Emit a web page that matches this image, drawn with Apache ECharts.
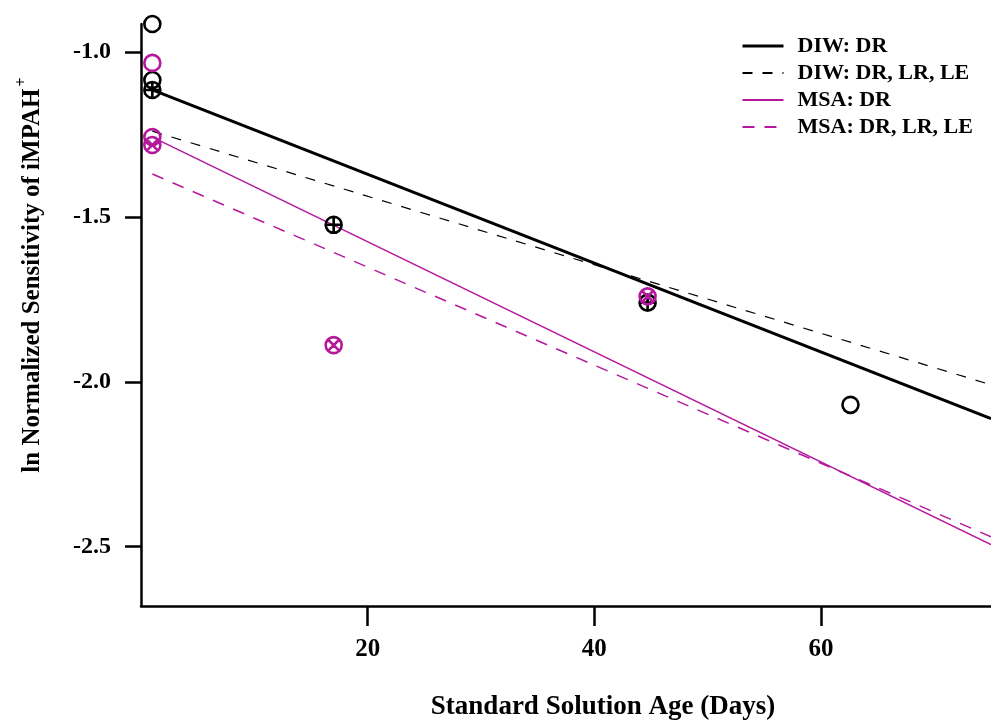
<!DOCTYPE html>
<html>
<head>
<meta charset="utf-8">
<script src="https://cdn.jsdelivr.net/npm/echarts@6.0.0/dist/echarts.min.js"></script>
<style>
  html, body { margin: 0; padding: 0; background: #fff; }
  #chart { width: 991px; height: 721px; }
</style>
</head>
<body>
<div id="chart"></div>
<script>
// fitted lines, read at both ends of the plotted range
const fitDays = [1, 75];
const diwDR = [-1.115, -2.112];
const diwAll = [-1.24, -2.009];
const msaDR = [-1.258, -2.494];
const msaAll = [-1.37, -2.47];

// measured points
const diwCircleDays = [1, 1, 62.6];
const diwCircleVals = [-0.915, -1.085, -2.07];
const diwPlusDays = [1, 17, 44.7];
const diwPlusVals = [-1.115, -1.524, -1.76];
const msaCircleDays = [1, 1];
const msaCircleVals = [-1.033, -1.258];
const msaCrossDays = [1, 17, 44.7];
const msaCrossVals = [-1.282, -1.889, -1.741];

const xTicks = [20, 40, 60];
const yTicks = [-2.5, -2.0, -1.5, -1.0];

const BLACK = "#000";
const MAGENTA = "#b5189c";
const FONT = "'Liberation Serif', 'DejaVu Serif', serif";

const CIRCLE = "path://M0,-10A10,10 0 1,1 0,10A10,10 0 1,1 0,-10Z";
const CIRCLE_PLUS = CIRCLE + "M-10,0L10,0M0,-10L0,10";
const CIRCLE_X = CIRCLE + "M-7.07,-7.07L7.07,7.07M-7.07,7.07L7.07,-7.07";

const zip = (xs, ys) => xs.map((x, i) => [x, ys[i]]);

const chart = echarts.init(document.getElementById("chart"));

const lineSeries = (name, vals, color, width, type) => ({
  name,
  type: "line",
  data: zip(fitDays, vals),
  symbol: "none",
  lineStyle: { color, width, type },
  itemStyle: { color },
  z: 2,
});

const pointSeries = (days, vals, symbol, color) => ({
  type: "scatter",
  data: zip(days, vals),
  symbol,
  symbolSize: 16,
  clip: false,
  itemStyle: { color: "rgba(0,0,0,0)", borderColor: color, borderWidth: 2.6, opacity: 1 },
  z: 3,
});

chart.setOption({
  animation: false,
  grid: { left: 141, right: 0, top: 24, bottom: 115, containLabel: false, outerBoundsMode: "none" },
  xAxis: {
    type: "value",
    min: 0,
    max: 75,
    name: "Standard Solution Age (Days)",
    nameLocation: "middle",
    nameGap: 88,
    nameTextStyle: {
      fontFamily: FONT, fontWeight: "bold", fontSize: 27, color: BLACK,
      padding: [0, 0, 0, 74],
    },
    axisLine: { lineStyle: { color: BLACK, width: 2.5 } },
    axisTick: { length: 20, customValues: xTicks, lineStyle: { color: BLACK, width: 2.5 } },
    axisLabel: {
      customValues: xTicks,
      margin: 31,
      fontFamily: FONT, fontWeight: "bold", fontSize: 25, color: BLACK,
    },
    splitLine: { show: false },
  },
  yAxis: {
    type: "value",
    min: -2.68,
    max: -0.915,
    axisLine: { show: true, lineStyle: { color: BLACK, width: 2.5 } },
    axisTick: { show: true, length: 16, customValues: yTicks, lineStyle: { color: BLACK, width: 2.5 } },
    axisLabel: {
      customValues: yTicks,
      margin: 30,
      formatter: (v) => v.toFixed(1),
      fontFamily: FONT, fontWeight: "bold", fontSize: 24, color: BLACK,
    },
    splitLine: { show: false },
  },
  legend: {
    data: [
      { name: "DIW: DR", lineStyle: { width: 3 } },
      { name: "DIW: DR, LR, LE" },
      { name: "MSA: DR" },
      { name: "MSA: DR, LR, LE" },
    ],
    orient: "vertical",
    left: 741,
    top: 35,
    padding: 0,
    itemWidth: 41,
    itemHeight: 14,
    itemGap: 5,
    itemStyle: { opacity: 0 },
    textStyle: { fontFamily: FONT, fontWeight: "bold", fontSize: 22, color: BLACK, padding: [0, 0, 0, 9] },
  },
  graphic: [
    {
      type: "text",
      x: 33,
      y: 275,
      rotation: Math.PI / 2,
      style: {
        text: "{a|ln Normalized Sensitivity of iMPAH}{s|+}",
        align: "center",
        verticalAlign: "middle",
        rich: {
          a: { fontFamily: FONT, fontWeight: "bold", fontSize: 25, fill: BLACK },
          s: { fontFamily: FONT, fontWeight: "bold", fontSize: 16, fill: BLACK, padding: [0, 0, 22, 2] },
        },
      },
    },
  ],
  series: [
    lineSeries("DIW: DR", diwDR, BLACK, 3, "solid"),
    lineSeries("DIW: DR, LR, LE", diwAll, BLACK, 1.2, [10, 10]),
    lineSeries("MSA: DR", msaDR, MAGENTA, 1.5, "solid"),
    lineSeries("MSA: DR, LR, LE", msaAll, MAGENTA, 1.5, [12, 10]),
    pointSeries(diwCircleDays, diwCircleVals, CIRCLE, BLACK),
    pointSeries(diwPlusDays, diwPlusVals, CIRCLE_PLUS, BLACK),
    pointSeries(msaCircleDays, msaCircleVals, CIRCLE, MAGENTA),
    pointSeries(msaCrossDays, msaCrossVals, CIRCLE_X, MAGENTA),
  ],
});
</script>
</body>
</html>
